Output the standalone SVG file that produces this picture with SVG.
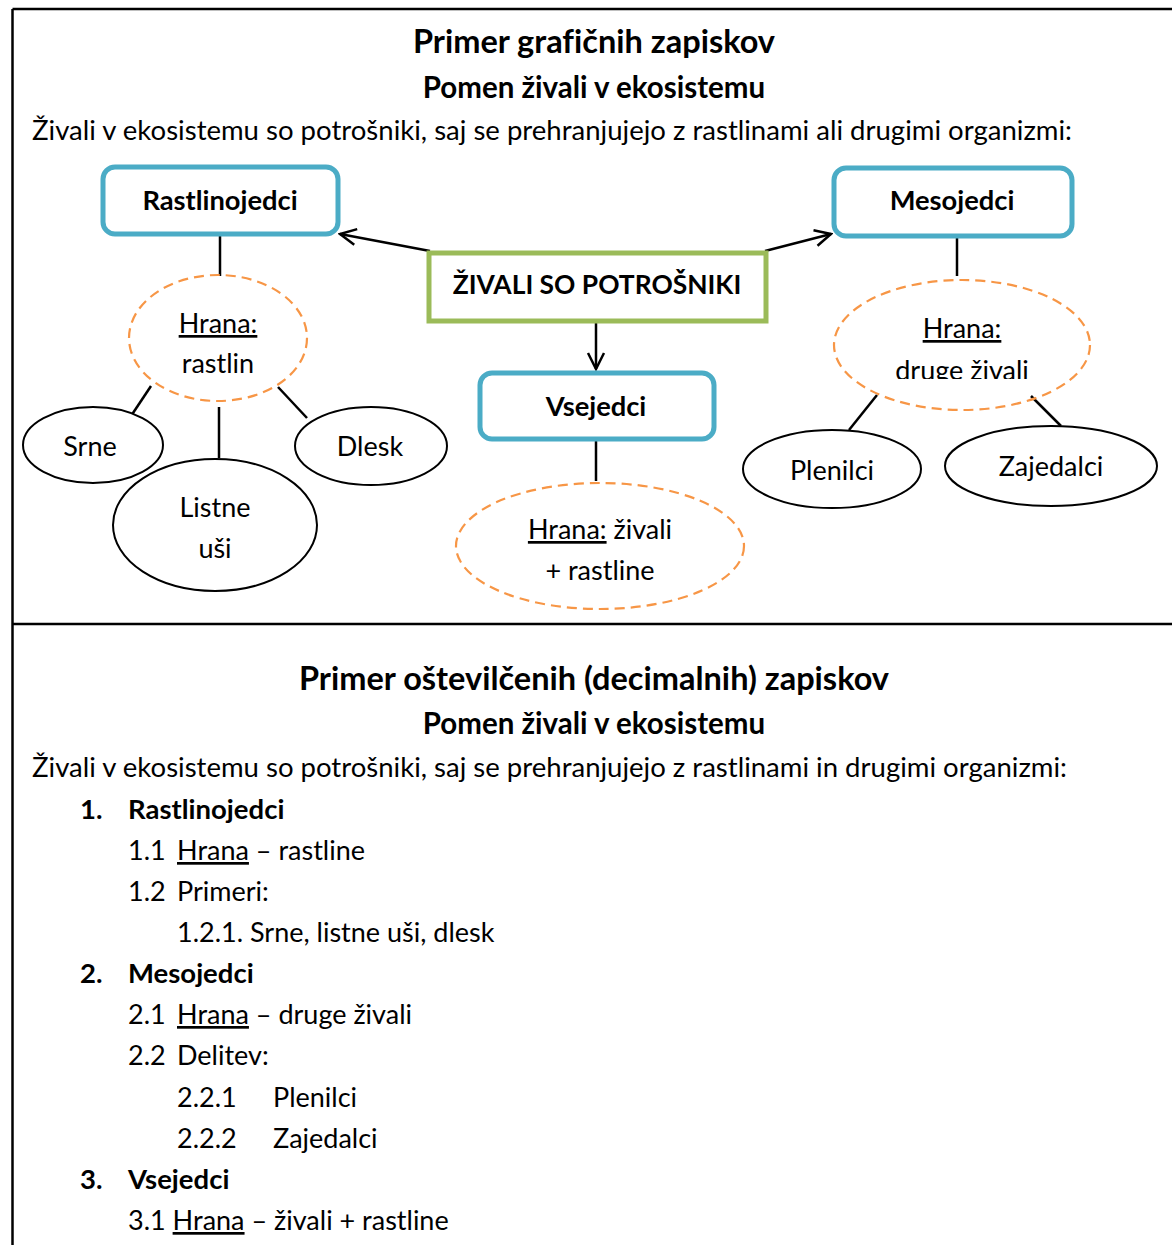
<svg xmlns="http://www.w3.org/2000/svg" width="1172" height="1245" viewBox="0 0 1172 1245">
<style>
text{font-family:Lato,"Open Sans","Liberation Sans",sans-serif;fill:#000;font-variant-ligatures:none}
.h1{font-size:32.5px;font-weight:bold;text-anchor:middle}
.h2{font-size:29.5px;font-weight:bold;text-anchor:middle}
.b{font-size:27px}
.bb{font-size:27.5px;font-weight:bold}
.n{font-size:27px;text-anchor:middle}
.nb{font-size:27.3px;font-weight:bold;text-anchor:middle}
.u{text-decoration:underline}
.box{fill:#fff;stroke:#4BACC6;stroke-width:5}
.main{fill:#fff;stroke:#9BBB59;stroke-width:5}
.dash{fill:none;stroke:#F79646;stroke-width:2.2;stroke-dasharray:10 6}
.ell{fill:#fff;stroke:#000;stroke-width:2}
.ln{stroke:#000;stroke-width:2.5;fill:none}
.border{stroke:#000;stroke-width:2.5;fill:none}
</style>
<defs>
<marker id="arr" viewBox="0 0 20 20" refX="18" refY="10" markerWidth="20" markerHeight="20" markerUnits="userSpaceOnUse" orient="auto">
<path d="M2,2 L18,10 L2,18" fill="none" stroke="#000" stroke-width="2.5"/>
</marker>
<clipPath id="clipL"><rect x="120" y="270" width="200" height="103"/></clipPath>
<clipPath id="clipR"><rect x="830" y="270" width="270" height="109"/></clipPath>
</defs>
<rect width="1172" height="1245" fill="#fff"/>
<g id="frame">
<line class="border" x1="12.5" y1="9" x2="1172" y2="9"/>
<line class="border" x1="12.5" y1="9" x2="12.5" y2="1245"/>
<line class="border" x1="12.5" y1="624" x2="1172" y2="624"/>
</g>
<g id="header1">
<text class="h1" x="594" y="53">Primer grafičnih zapiskov</text>
<text class="h2" x="594" y="98">Pomen živali v ekosistemu</text>
<text class="b" x="32" y="140" textLength="1040" lengthAdjust="spacingAndGlyphs">Živali v ekosistemu so potrošniki, saj se prehranjujejo z rastlinami ali drugimi organizmi:</text>
</g>
<g id="connectors">
<line class="ln" x1="430" y1="251" x2="340" y2="234" marker-end="url(#arr)"/>
<line class="ln" x1="765" y1="251" x2="831" y2="234" marker-end="url(#arr)"/>
<line class="ln" x1="596" y1="322" x2="596" y2="369" marker-end="url(#arr)"/>
<line class="ln" x1="220" y1="236" x2="220" y2="276"/>
<line class="ln" x1="151" y1="386" x2="131" y2="416"/>
<line class="ln" x1="219" y1="407" x2="219" y2="458"/>
<line class="ln" x1="278" y1="387" x2="307" y2="418"/>
<line class="ln" x1="957" y1="237" x2="957" y2="276"/>
<line class="ln" x1="877" y1="395" x2="849" y2="430"/>
<line class="ln" x1="1031" y1="396" x2="1061" y2="426"/>
<line class="ln" x1="596" y1="441" x2="596" y2="481"/>
</g>
<g id="rastlinojedci">
<rect class="box" x="103" y="167" width="235" height="67" rx="12"/>
<text class="nb" x="220" y="210">Rastlinojedci</text>
</g>
<g id="mesojedci">
<rect class="box" x="834" y="168" width="238" height="68" rx="12"/>
<text class="nb" x="952" y="210">Mesojedci</text>
</g>
<g id="zivali">
<rect class="main" x="429" y="253" width="337" height="68"/>
<text class="nb" x="597" y="294" style="font-size:26.4px">ŽIVALI SO POTROŠNIKI</text>
</g>
<g id="vsejedci">
<rect class="box" x="480" y="373" width="234" height="66" rx="12"/>
<text class="nb" x="596" y="416">Vsejedci</text>
</g>
<g id="hrana-rastlin">
<ellipse class="dash" cx="218" cy="338" rx="89" ry="63"/>
<text class="n u" x="218" y="333">Hrana:</text>
<text class="n" x="218" y="373" clip-path="url(#clipL)">rastlin</text>
</g>
<g id="hrana-druge">
<ellipse class="dash" cx="962" cy="345" rx="128" ry="65"/>
<text class="n u" x="962" y="338">Hrana:</text>
<text class="n" x="962" y="380" clip-path="url(#clipR)">druge živali</text>
</g>
<g id="hrana-vse">
<ellipse class="dash" cx="600" cy="546" rx="144" ry="63"/>
<text class="n" x="600" y="539"><tspan class="u">Hrana:</tspan> živali</text>
<text class="n" x="600" y="580">+ rastline</text>
</g>
<g id="srne">
<ellipse class="ell" cx="93" cy="445" rx="70" ry="38"/>
<text class="n" x="90" y="456">Srne</text>
</g>
<g id="listne">
<ellipse class="ell" cx="215" cy="525" rx="102" ry="66"/>
<text class="n" x="215" y="517">Listne</text>
<text class="n" x="215" y="558">uši</text>
</g>
<g id="dlesk">
<ellipse class="ell" cx="371" cy="446" rx="76" ry="39"/>
<text class="n" x="370" y="456">Dlesk</text>
</g>
<g id="plenilci">
<ellipse class="ell" cx="832" cy="469" rx="89" ry="39"/>
<text class="n" x="832" y="480">Plenilci</text>
</g>
<g id="zajedalci">
<ellipse class="ell" cx="1051" cy="466" rx="106" ry="40"/>
<text class="n" x="1051" y="476">Zajedalci</text>
</g>
<g id="header2">
<text class="h1" x="594" y="690">Primer oštevilčenih (decimalnih) zapiskov</text>
<text class="h2" x="594" y="734">Pomen živali v ekosistemu</text>
<text class="b" x="32" y="777" textLength="1035" lengthAdjust="spacingAndGlyphs">Živali v ekosistemu so potrošniki, saj se prehranjujejo z rastlinami in drugimi organizmi:</text>
</g>
<g id="list">
<text class="bb" x="80" y="819">1.</text><text class="bb" x="128" y="819">Rastlinojedci</text>
<text class="b" x="128" y="860">1.1</text><text class="b" x="177" y="860"><tspan class="u">Hrana</tspan> – rastline</text>
<text class="b" x="128" y="901">1.2</text><text class="b" x="177" y="901">Primeri:</text>
<text class="b" x="177" y="942">1.2.1. Srne, listne uši, dlesk</text>
<text class="bb" x="80" y="983">2.</text><text class="bb" x="128" y="983">Mesojedci</text>
<text class="b" x="128" y="1024">2.1</text><text class="b" x="177" y="1024"><tspan class="u">Hrana</tspan> – druge živali</text>
<text class="b" x="128" y="1065">2.2</text><text class="b" x="177" y="1065">Delitev:</text>
<text class="b" x="177" y="1107">2.2.1</text><text class="b" x="273" y="1107">Plenilci</text>
<text class="b" x="177" y="1148">2.2.2</text><text class="b" x="273" y="1148">Zajedalci</text>
<text class="bb" x="80" y="1189">3.</text><text class="bb" x="128" y="1189">Vsejedci</text>
<text class="b" x="128" y="1230">3.1 <tspan class="u">Hrana</tspan> – živali + rastline</text>
</g>
</svg>
